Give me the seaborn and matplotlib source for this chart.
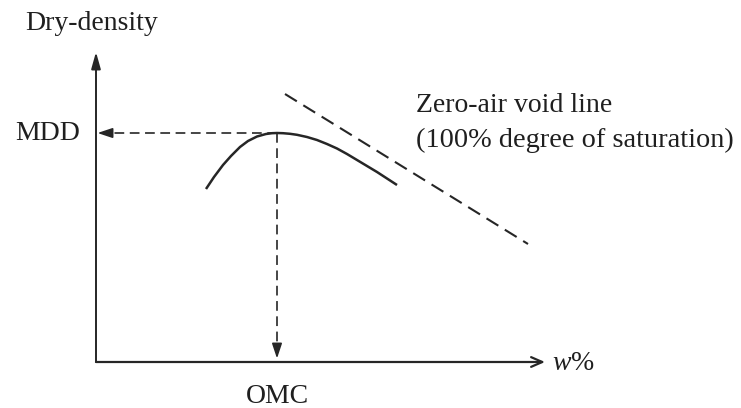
import numpy as np
import pandas as pd
import seaborn as sns
import matplotlib
matplotlib.use("Agg")
import matplotlib.pyplot as plt

# schematic compaction curve (arbitrary units: w along x, dry density along y)
w_curve = [11.0, 11.8, 12.7, 13.5, 14.4, 15.2, 16.1, 17.0, 17.6, 18.1, 18.7,
           19.4, 20.1, 21.1, 22.1, 23.1, 24.1, 25.1, 26.1, 27.1, 28.1, 29.1, 30.1]
rho_curve = [17.3, 18.5, 19.7, 20.6, 21.5, 22.1, 22.55, 22.8, 22.88, 22.9, 22.88,
             22.82, 22.72, 22.5, 22.2, 21.8, 21.35, 20.8, 20.2, 19.6, 19.0, 18.35, 17.7]

# zero-air void line end points
w_zav = [18.9, 43.2]
rho_zav = [26.8, 11.8]

omc = 18.1
mdd = 22.9
x_axis_end = 44.9
y_axis_end = 31.0

sns.set_style("white")
plt.rcParams["font.family"] = ["Liberation Serif", "DejaVu Serif"]
plt.rcParams["mathtext.fontset"] = "custom"
plt.rcParams["mathtext.it"] = "Liberation Serif:italic"
plt.rcParams["mathtext.rm"] = "Liberation Serif"
plt.rcParams["lines.scale_dashes"] = False

fig = plt.figure(figsize=(7.41, 4.08), dpi=100)
ax = fig.add_axes([0, 0, 1, 1])
ax.set_xlim(-9.6, 64.5)
ax.set_ylim(-4.6, 36.2)
ax.axis("off")

ink = "#262626"
txt = "#1f1f1f"

# compaction curve
curve = pd.DataFrame({"w": w_curve, "rho": rho_curve})
sns.lineplot(data=curve, x="w", y="rho", ax=ax, color=ink, lw=1.8,
             sort=False, solid_capstyle="butt", solid_joinstyle="round")

# zero-air void line
zav = pd.DataFrame({"w": w_zav, "rho": rho_zav})
sns.lineplot(data=zav, x="w", y="rho", ax=ax, color=ink, lw=1.5,
             dashes=False, linestyle=(0, (10, 5.5)))

# axes with arrows
ax.annotate("", xy=(0, y_axis_end), xytext=(0, 0),
            arrowprops=dict(arrowstyle="-|>,head_length=1.0,head_width=0.28",
                            color=ink, lw=1.4, mutation_scale=10,
                            shrinkA=0, shrinkB=0))
ax.annotate("", xy=(x_axis_end, 0), xytext=(0, 0),
            arrowprops=dict(arrowstyle="->,head_length=0.8,head_width=0.35",
                            color=ink, lw=1.6, mutation_scale=10,
                            shrinkA=0, shrinkB=0))

# dashed guides from the peak
ax.plot([omc, 1.0], [mdd, mdd], color=ink, lw=1.2, linestyle=(0, (7, 4)))
ax.plot([omc, omc], [mdd, 1.0], color=ink, lw=1.2, linestyle=(0, (7, 4)))
ax.annotate("", xy=(0.15, mdd), xytext=(1.4, mdd),
            arrowprops=dict(arrowstyle="-|>,head_length=0.9,head_width=0.3",
                            color=ink, lw=1.2, mutation_scale=10,
                            shrinkA=0, shrinkB=0))
ax.annotate("", xy=(omc, 0.35), xytext=(omc, 1.6),
            arrowprops=dict(arrowstyle="-|>,head_length=0.9,head_width=0.3",
                            color=ink, lw=1.2, mutation_scale=10,
                            shrinkA=0, shrinkB=0))

# labels
fs = 20
ax.text(-7.1, 33.2, "Dry-density", fontsize=fs, color=txt, ha="left", va="baseline")
ax.text(-1.6, 22.2, "MDD", fontsize=fs, color=txt, ha="right", va="baseline")
ax.text(omc, -4.1, "OMC", fontsize=fs, color=txt, ha="center", va="baseline")
ax.text(45.6, -0.8, "$w$%", fontsize=fs, color=txt, ha="left", va="baseline")
ax.text(32.0, 25.0, "Zero-air void line", fontsize=fs, color=txt, ha="left", va="baseline")
ax.text(32.0, 21.5, "(100% degree of saturation)", fontsize=20.4, color=txt,
        ha="left", va="baseline")

fig.savefig("out.png", dpi=100, facecolor="white")
